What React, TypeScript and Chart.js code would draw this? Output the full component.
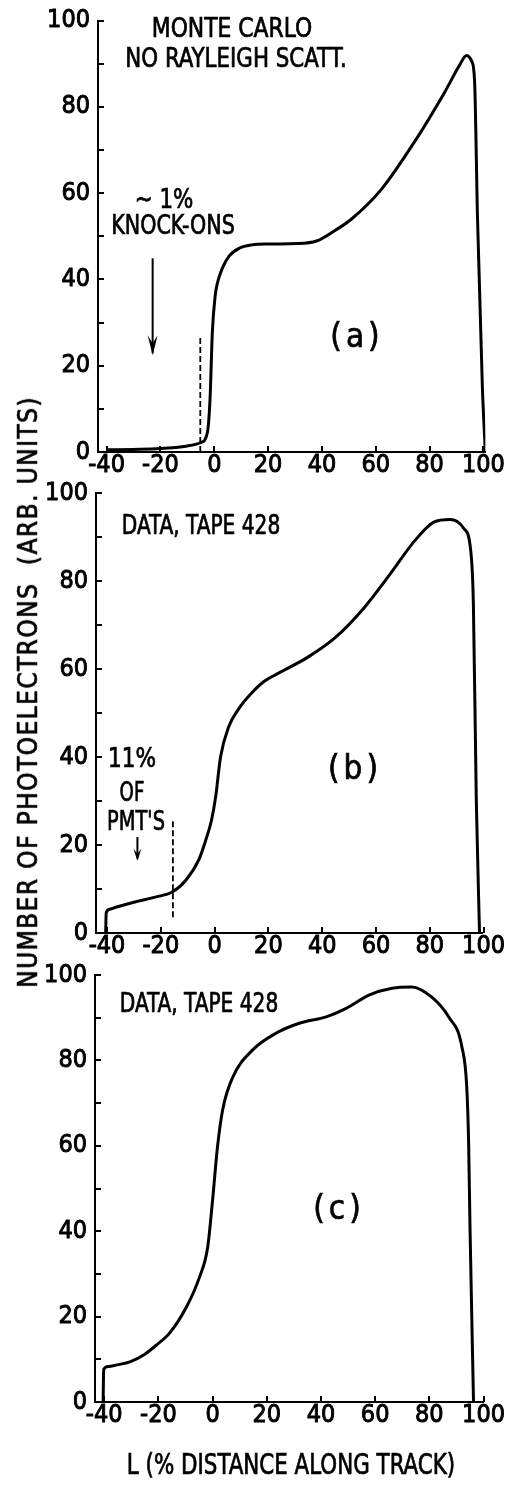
import React, { useEffect, useRef } from "react";
import { Chart, registerables } from "chart.js";

Chart.register(...registerables);

// ---------- data ----------
const xTickValues = [-40, -20, 0, 20, 40, 60, 80, 100];
const yTickValues = [0, 20, 40, 60, 80, 100];
const yMinorTickValues = [0, 10, 20, 30, 40, 50, 60, 70, 80, 90, 100];

// (a) Monte Carlo, no Rayleigh scattering
const aX = [-40, -30, -20, -10, -5, -2.6, -1.6, -0.7, 0.3, 1.1, 3, 5.5, 9.2, 14, 20, 31, 38, 44, 51, 62, 74.5, 85.6, 91, 93.7, 95.6, 96.7, 97.8, 99.6, 100.7];
const aY = [0.5, 0.6, 0.8, 1.4, 2.2, 4.4, 12, 28, 36, 39, 42.6, 45.4, 47.2, 48, 48.2, 48.3, 48.9, 51, 54, 60.8, 72, 83.4, 89.5, 91.9, 90.6, 86, 54, 15, 0];

// (b) data, tape 428
const bX = [-40.5, -40.3, -39, -36.4, -30, -21.7, -15.8, -10.7, -5.9, -3.3, -1.2, 0.4, 2.2, 5.2, 9, 13.7, 18, 23.6, 34.7, 44.6, 55.7, 65.3, 74.2, 81.5, 87.5, 92.6, 95.2, 96.2, 97.3, 98.5];
const bY = [0, 4.6, 5.4, 5.9, 7, 8.2, 9.3, 12, 16.6, 21.1, 25.5, 31, 40, 46.8, 51, 54.5, 57, 59, 62.7, 67, 74, 81.6, 89, 93.4, 94, 92, 87, 75, 30, 0];

// (c) data, tape 428
const cX = [-40.4, -40.2, -38.5, -35.3, -30.5, -25, -20.6, -15.8, -9.6, -4.8, -1.8, 0, 1.8, 3.7, 7.4, 14.7, 23.5, 32, 41.9, 49.3, 57.7, 66.2, 73.5, 80.9, 87.1, 92, 93.8, 94.5, 95, 96.3];
const cY = [0, 7.6, 8.3, 8.7, 9.4, 11.2, 13.4, 16.2, 22.3, 29.3, 36.3, 47.3, 59.7, 68.4, 76, 82.4, 86.4, 88.7, 90.2, 92.2, 95.3, 96.9, 97.2, 94.8, 90.2, 83.2, 73.8, 60.6, 41, 0];

// marker lines (dashed) and arrows, in data units
const aDashX = -5.2;
const aDashY = [0, 27];
const aArrowX = -22.9;
const aArrowY = [44.9, 22.4];
const bDashX = -15.5;
const bDashY = [3.6, 26];
const bArrowX = -28.7;
const bArrowY = [21.8, 16.4];

// ---------- layout ----------
const W = 506;
const H = 1485;
const XAXIS_H = 40;
const FONT = "'DejaVu Sans Condensed', 'DejaVu Sans', sans-serif";

const panels = [
  { xs: aX, ys: aY, dashX: aDashX, dashY: aDashY, arrowX: aArrowX, arrowY: aArrowY, head: [5, 20],
    left: 98, right: 488, top: 19, bottom: 452, xMin: -43.2, xMax: 100.7 },
  { xs: bX, ys: bY, dashX: bDashX, dashY: bDashY, arrowX: bArrowX, arrowY: bArrowY, head: [4, 12],
    left: 96, right: 487, top: 493, bottom: 933, xMin: -44.1, xMax: 99.7 },
  { xs: cX, ys: cY, dashX: null, dashY: null, arrowX: null, arrowY: null, head: [0, 0],
    left: 95, right: 485, top: 975, bottom: 1402, xMin: -43.4, xMax: 100 },
];

const texts = [
  { t: "MONTE CARLO", x: 232, y: 27, s: 27, sx: 0.9, ls: 0 },
  { t: "NO RAYLEIGH SCATT.", x: 236, y: 57, s: 27, sx: 0.88, ls: 0 },
  { t: "\u223C 1%", x: 164, y: 198, s: 27, sx: 0.88, ls: 0 },
  { t: "KNOCK-ONS", x: 173, y: 224, s: 27, sx: 0.85, ls: 0 },
  { t: "(a)", x: 357, y: 335, s: 33, sx: 1, ls: 4 },
  { t: "DATA, TAPE 428", x: 201, y: 524, s: 27, sx: 0.83, ls: 0 },
  { t: "11%", x: 132, y: 757, s: 27, sx: 0.89, ls: 0 },
  { t: "OF", x: 132, y: 791, s: 27, sx: 0.75, ls: 0 },
  { t: "PMT'S", x: 136, y: 820, s: 27, sx: 0.8, ls: 0 },
  { t: "(b)", x: 355, y: 767, s: 33, sx: 1, ls: 4 },
  { t: "DATA, TAPE 428", x: 199, y: 1002, s: 27, sx: 0.83, ls: 0 },
  { t: "(c)", x: 339, y: 1207, s: 33, sx: 1, ls: 4 },
  { t: "L (% DISTANCE ALONG TRACK)", x: 291, y: 1465, s: 28, sx: 0.85, ls: 0 },
];

function decorPlugin(p: any) {
  return {
    id: "decor",
    afterDatasetsDraw(chart: any) {
      const { ctx, chartArea } = chart;
      const xs = chart.scales.x;
      const ys = chart.scales.y;
      ctx.save();
      ctx.strokeStyle = "#000";
      ctx.fillStyle = "#000";
      ctx.lineWidth = 2;
      ctx.beginPath();
      yMinorTickValues.forEach((v) => {
        const py = Math.round(ys.getPixelForValue(v));
        ctx.moveTo(chartArea.left, py);
        ctx.lineTo(chartArea.left + 6, py);
      });
      xTickValues.forEach((v) => {
        const px = Math.round(xs.getPixelForValue(v));
        ctx.moveTo(px, chartArea.bottom);
        ctx.lineTo(px, chartArea.bottom - 6);
      });
      ctx.stroke();
      if (p.arrowX !== null) {
        const ax = xs.getPixelForValue(p.arrowX);
        const y1 = ys.getPixelForValue(p.arrowY[0]);
        const y2 = ys.getPixelForValue(p.arrowY[1]);
        const [hw, hl] = p.head;
        ctx.lineWidth = 2;
        ctx.beginPath();
        ctx.moveTo(ax, y1);
        ctx.lineTo(ax, y2 - 2);
        ctx.stroke();
        ctx.beginPath();
        ctx.moveTo(ax - hw, y2 - hl);
        ctx.lineTo(ax, y2);
        ctx.lineTo(ax + hw, y2 - hl);
        ctx.lineTo(ax, y2 - hl * 0.6);
        ctx.closePath();
        ctx.fill();
      }
      ctx.restore();
    },
  };
}

function makeChart(canvas: HTMLCanvasElement, p: any) {
  const datasets: any[] = [
    {
      data: p.xs.map((x: number, i: number) => ({ x, y: p.ys[i] })),
      borderColor: "#000",
      borderWidth: 3,
      pointRadius: 0,
      cubicInterpolationMode: "monotone",
      fill: false,
    },
  ];
  if (p.dashX !== null) {
    datasets.push({
      data: [
        { x: p.dashX, y: p.dashY[0] },
        { x: p.dashX, y: p.dashY[1] },
      ],
      borderColor: "#000",
      borderWidth: 1.8,
      borderDash: [6, 3],
      pointRadius: 0,
      tension: 0,
      fill: false,
    });
  }
  const tickFont = { family: FONT, size: 25, lineHeight: 1 };
  return new Chart(canvas, {
    type: "line",
    data: { datasets },
    options: {
      responsive: false,
      animation: false,
      events: [],
      layout: {
        padding: { left: 0, top: p.top, right: W - p.right, bottom: H - p.bottom - XAXIS_H },
      },
      plugins: { legend: { display: false }, tooltip: { enabled: false }, title: { display: false } },
      scales: {
        x: {
          type: "linear",
          min: p.xMin,
          max: p.xMax,
          position: "bottom",
          grid: { display: false, drawTicks: false },
          border: { display: true, color: "#000", width: 2 },
          ticks: {
            color: "#000",
            font: tickFont,
            padding: 1,
            maxRotation: 0,
            autoSkip: false,
            textStrokeColor: "#000",
            textStrokeWidth: 0.9,
          },
          afterBuildTicks: (s: any) => {
            s.ticks = xTickValues.map((v) => ({ value: v }));
          },
          afterFit: (s: any) => {
            s.height = XAXIS_H;
          },
        },
        y: {
          type: "linear",
          min: 0,
          max: 100,
          position: "left",
          grid: { display: false, drawTicks: false },
          border: { display: true, color: "#000", width: 2 },
          ticks: {
            color: "#000",
            font: tickFont,
            padding: 8,
            autoSkip: false,
            textStrokeColor: "#000",
            textStrokeWidth: 0.9,
          },
          afterBuildTicks: (s: any) => {
            s.ticks = yTickValues.map((v) => ({ value: v }));
          },
          afterFit: (s: any) => {
            s.width = p.left;
          },
        },
      },
    } as any,
    plugins: [decorPlugin(p)],
  });
}

function Panel({ p }: { p: any }) {
  const ref = useRef<HTMLCanvasElement | null>(null);
  useEffect(() => {
    if (!ref.current) return;
    const ch = makeChart(ref.current, p);
    return () => ch.destroy();
  }, [p]);
  return (
    <canvas
      ref={ref}
      width={W}
      height={H}
      style={{ position: "absolute", left: 0, top: 0, width: W, height: H, pointerEvents: "none" }}
    />
  );
}

export default function App() {
  return (
    <div style={{ position: "absolute", left: 0, top: 0, width: W, height: H, background: "#fff", overflow: "hidden" }}>
      {panels.map((p, i) => (
        <Panel key={i} p={p} />
      ))}
      {texts.map((o, i) => (
        <div
          key={i}
          style={{
            position: "absolute",
            left: o.x,
            top: o.y,
            transform: `translate(-50%, -50%) scaleX(${o.sx})`,
            fontFamily: FONT,
            fontSize: o.s,
            lineHeight: 1,
            letterSpacing: o.ls,
            whiteSpace: "nowrap",
            color: "#000",
            WebkitTextStroke: "0.7px #000",
          }}
        >
          {o.t}
        </div>
      ))}
      <div
        style={{
          position: "absolute",
          left: 28,
          top: 692,
          transform: "translate(-50%, -50%) rotate(-90deg)",
          fontFamily: FONT,
          fontSize: 26,
          lineHeight: 1,
          letterSpacing: 1.4,
          whiteSpace: "nowrap",
          color: "#000",
          WebkitTextStroke: "0.7px #000",
        }}
      >
        NUMBER OF PHOTOELECTRONS&nbsp; (ARB. UNITS)
      </div>
    </div>
  );
}
